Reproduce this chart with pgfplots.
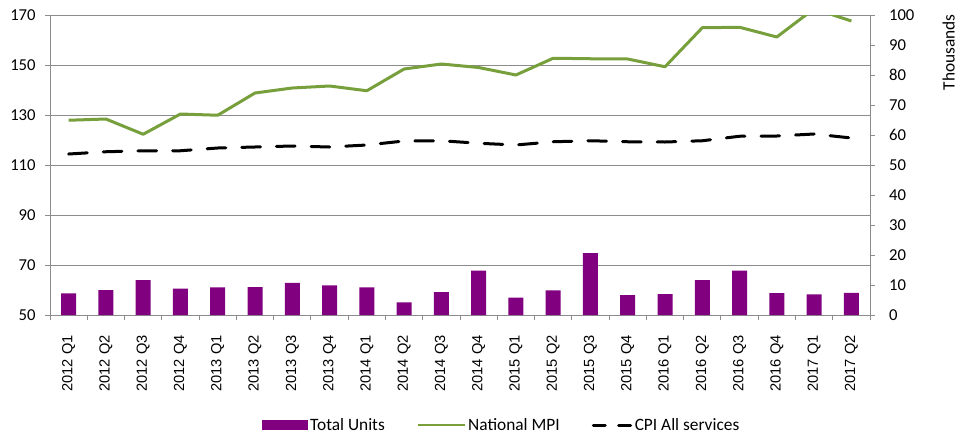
\documentclass[border=0pt]{standalone}
\usepackage{pgfplots}
\pgfplotsset{compat=1.18}
\usepackage{fontspec}
\setmainfont{Carlito}
\newfontfamily\arialf{Liberation Sans}

\definecolor{unitpurple}{RGB}{128,0,128}
\definecolor{mpigreen}{RGB}{119,160,60}
\definecolor{gridgray}{RGB}{140,140,140}

% 1px of the reference = 0.75pt
\pgfplotsset{
  base/.style={
    at={(0pt,0pt)}, anchor=south west,
    width=615pt, height=225pt, scale only axis,
    xmin=0.5, xmax=22.5,
    tick align=outside,
    major tick length=3.75pt,
    minor tick length=3.75pt,
    tick style={gridgray, line width=0.75pt},
    axis line style={gridgray, line width=0.75pt},
    /pgf/number format/assume math mode=true,
    ticklabel style={font=\fontsize{12.5}{14}\selectfont},
  }
}

\begin{document}
\begin{tikzpicture}
\useasboundingbox (-37.5pt,-96.75pt) rectangle (682.5pt,236.25pt);

% left scale: price indices
\begin{axis}[
  base,
  ymin=50, ymax=170,
  ytick={50,70,...,170},
  ytick pos=left,
  yticklabel style={xshift=-3.5pt},
  ymajorgrids,
  grid style={gridgray, line width=0.75pt},
  xtick={1,...,22},
  xtick pos=bottom,
  major x tick style={draw=none},
  minor xtick={0.5,1.5,...,22.5},
  xticklabels={2012 Q1,2012 Q2,2012 Q3,2012 Q4,2013 Q1,2013 Q2,2013 Q3,2013 Q4,2014 Q1,2014 Q2,2014 Q3,2014 Q4,2015 Q1,2015 Q2,2015 Q3,2015 Q4,2016 Q1,2016 Q2,2016 Q3,2016 Q4,2017 Q1,2017 Q2},
  xticklabel style={yshift=-8pt, rotate=90, anchor=east, font=\arialf\fontsize{11}{13}\selectfont},
  legend style={at={(0.551,-0.367)}, anchor=center, draw=none, fill=none,
    legend columns=-1, font=\fontsize{13}{15}\selectfont,
    /tikz/every even column/.append style={column sep=22pt}},
  legend cell align=left,
  ]
\addlegendimage{legend image code/.code={\fill[unitpurple] (0pt,-3.4pt) rectangle (34pt,3.4pt);}}
\addlegendentry{Total Units}

\addplot[mpigreen, line width=2.25pt, line join=round,
  legend image code/.code={\draw[mpigreen, line width=1.5pt] (0pt,0pt) -- (35pt,0pt);}]
coordinates {
(1,127.9) (2,128.4) (3,122.3) (4,130.4) (5,129.9) (6,138.8) (7,140.8) (8,141.6)
(9,139.7) (10,148.4) (11,150.4) (12,149.0) (13,146.0) (14,152.7) (15,152.5) (16,152.4)
(17,149.3) (18,164.9) (19,165.1) (20,161.2) (21,172.5) (22,167.6)
};
\addlegendentry{National MPI}

\addplot[black, line width=2.25pt, line cap=round, dash pattern=on 14pt off 12pt,
  legend image code/.code={\draw[black, line width=2.25pt, dash pattern=on 9pt off 10pt] (0pt,0pt) -- (28pt,0pt);}]
coordinates {
(1,114.4) (2,115.3) (3,115.7) (4,115.7) (5,116.8) (6,117.2) (7,117.6) (8,117.2)
(9,118.0) (10,119.6) (11,119.7) (12,118.7) (13,118.0) (14,119.3) (15,119.7) (16,119.3)
(17,119.2) (18,119.7) (19,121.5) (20,121.6) (21,122.4) (22,120.8)
};
\addlegendentry{CPI All services}
\end{axis}

% right scale: units in thousands
\begin{axis}[
  base,
  ymin=0, ymax=100,
  ytick={0,10,...,100},
  yticklabel style={xshift=7pt},
  axis x line=none,
  axis y line*=right,
  ]
\addplot[ybar, bar width=11.25pt, fill=unitpurple, draw=none]
coordinates {
(1,7.2) (2,8.3) (3,11.6) (4,8.8) (5,9.2) (6,9.3) (7,10.7) (8,9.9)
(9,9.2) (10,4.2) (11,7.6) (12,14.8) (13,5.8) (14,8.2) (15,20.6) (16,6.6)
(17,7.0) (18,11.6) (19,14.8) (20,7.3) (21,6.9) (22,7.4)
};
\end{axis}

\node[rotate=90, anchor=east, font=\fontsize{13}{15}\selectfont] at (674pt,229pt) {Thousands};
\end{tikzpicture}
\end{document}
